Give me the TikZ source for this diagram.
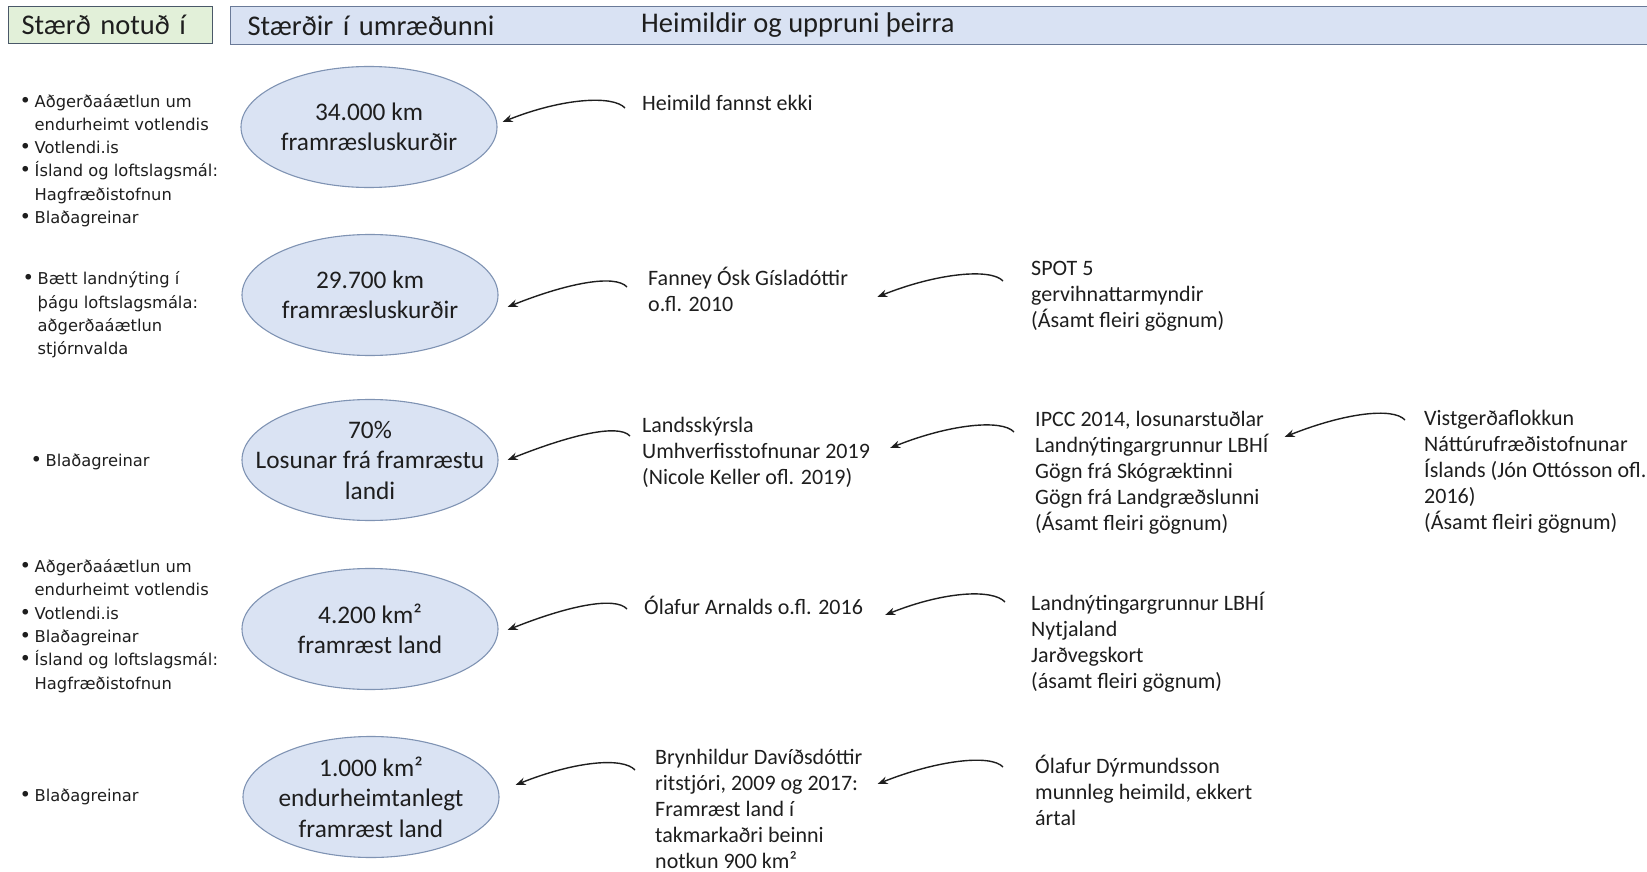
\documentclass[tikz,border=0pt]{standalone}
\usepackage{fontspec}
\setmainfont{Carlito}
\newfontfamily\leftfont{DejaVu Sans}
\usetikzlibrary{shapes.geometric,arrows.meta}
\definecolor{ellfill}{HTML}{DAE3F3}
\definecolor{elldraw}{HTML}{7F93B3}
\definecolor{gfill}{HTML}{E2F0D9}
\definecolor{gdraw}{HTML}{4A5868}
\definecolor{bfill}{HTML}{D9E2F3}
\definecolor{bdraw}{HTML}{6A7A98}
\definecolor{ink}{HTML}{1E1E1E}
\newcommand{\lbul}{\makebox[10.5pt][l]{\hspace*{-4.5pt}\scalebox{1.2}{•}}}
\newcommand{\lind}{\hspace*{10.5pt}}
\begin{document}
\begin{tikzpicture}[x=1pt,y=-1pt,
  ell/.style={ellipse, draw=elldraw, fill=ellfill, line width=1.1pt, minimum width=256pt, minimum height=121pt, inner sep=0pt},
  etext/.style={font={\fontsize{25.3}{30.5}\selectfont}, align=center, inner sep=0pt, text=ink},
  src/.style={font={\fontsize{22}{26}\selectfont}, align=left, anchor=west, inner sep=0pt, text=ink},
  lft/.style={font={\leftfont\fontsize{16.3}{23.3}\selectfont}, align=left, anchor=west, inner sep=0pt, text=ink},
  hdrtext/.style={font={\fontsize{28.5}{32}\selectfont}, text=ink},
  arr/.style={draw=ink, line width=1.4pt, -{Stealth[length=10pt,width=7.5pt]}},
]
\useasboundingbox (0,0) rectangle (1647,872);

% header
\node[hdrtext, draw=gdraw, fill=gfill, line width=1.3pt, anchor=north west,
      text width=178pt, inner xsep=13pt, minimum height=37pt, align=left] (hg) at (8,6) {Stærð notuð í};
\node[hdrtext, draw=bdraw, fill=bfill, line width=1.3pt, anchor=north west,
      text width=1396pt, inner xsep=17pt, minimum height=38pt, align=left] (hb) at (230,6) {Stærðir í umræðunni};
\node[hdrtext, anchor=west, inner sep=0pt] (hh) at (641,25) {Heimildir og uppruni þeirra};

% left column
\node[lft] (g1) at (24,160.5) {\lbul Aðgerðaáætlun um\\ \lind endurheimt votlendis\\ \lbul Votlendi.is\\ \lbul Ísland og loftslagsmál:\\ \lind Hagfræðistofnun\\ \lbul Blaðagreinar};
\node[lft] (g2) at (27,315) {\lbul Bætt landnýting í\\ \lind þágu loftslagsmála:\\ \lind aðgerðaáætlun\\ \lind stjórnvalda};
\node[lft] (g3) at (35,462) {\lbul Blaðagreinar};
\node[lft] (g4) at (24,626) {\lbul Aðgerðaáætlun um\\ \lind endurheimt votlendis\\ \lbul Votlendi.is\\ \lbul Blaðagreinar\\ \lbul Ísland og loftslagsmál:\\ \lind Hagfræðistofnun};
\node[lft] (g5) at (24,797) {\lbul Blaðagreinar};

% ellipses
\node[ell] (e1) at (369,127) {};
\node[etext] (e1t) at (e1) {34.000 km\\framræsluskurðir};
\node[ell] (e2) at (370,295) {};
\node[etext] (e2t) at (e2) {29.700 km\\framræsluskurðir};
\node[ell] (e3) at (370,460) {};
\node[etext] (e3t) at (e3) {70\%\\Losunar frá framræstu\\landi};
\node[ell] (e4) at (370,629) {};
\node[etext] (e4t) at (e4) {4.200 km²\\framræst land};
\node[ell] (e5) at (371,797) {};
\node[etext] (e5t) at (e5) {1.000 km²\\endurheimtanlegt\\framræst land};

% sources, column 1
\node[src] (h1) at (642,103) {Heimild fannst ekki};
\node[src] (f1) at (648,289) {Fanney Ósk Gísladóttir\\o.fl. 2010};
\node[src] (l1) at (642,452) {Landsskýrsla\\Umhverfisstofnunar 2019\\(Nicole Keller ofl. 2019)};
\node[src] (o1) at (644,605) {Ólafur Arnalds o.fl. 2016};
\node[src] (b1) at (655,809) {Brynhildur Davíðsdóttir\\ritstjóri, 2009 og 2017:\\Framræst land í\\takmarkaðri beinni\\notkun 900 km²};

% sources, column 2
\node[src] (s2) at (1031,296) {SPOT 5\\gervihnattarmyndir\\(Ásamt fleiri gögnum)};
\node[src] (i2) at (1035,473) {IPCC 2014, losunarstuðlar\\Landnýtingargrunnur LBHÍ\\Gögn frá Skógræktinni\\Gögn frá Landgræðslunni\\(Ásamt fleiri gögnum)};
\node[src] (n2) at (1031,642) {Landnýtingargrunnur LBHÍ\\Nytjaland\\Jarðvegskort\\(ásamt fleiri gögnum)};
\node[src] (d2) at (1035,790) {Ólafur Dýrmundsson\\munnleg heimild, ekkert\\ártal};

% sources, column 3
\node[src] (v3) at (1424,472) {Vistgerðaflokkun\\Náttúrufræðistofnunar\\Íslands (Jón Ottósson ofl.\\2016)\\(Ásamt fleiri gögnum)};

% arrows
\draw[arr] ([shift={(-17,5)}]h1.west) .. controls +(-12,-13) and +(60,-24) .. ([shift={(5,-5)}]e1.east);
\draw[arr] ([shift={(-21,-2)}]f1.west) .. controls +(-12,-13) and +(60,-24) .. ([shift={(9,12)}]e2.east);
\draw[arr] ([shift={(-28,-15)}]s2.west) .. controls +(-12,-13) and +(60,-24) .. ([shift={(29,8)}]f1.east);
\draw[arr] ([shift={(-12,-16)}]l1.west) .. controls +(-12,-13) and +(60,-24) .. ([shift={(9,0)}]e3.east);
\draw[arr] ([shift={(-21,-41)}]i2.west) .. controls +(-12,-13) and +(60,-24) .. ([shift={(20,-4)}]l1.east);
\draw[arr] ([shift={(-19,-52)}]v3.west) .. controls +(-12,-13) and +(60,-24) .. ([shift={(16,-36)}]i2.east);
\draw[arr] ([shift={(-17,4)}]o1.west) .. controls +(-12,-13) and +(60,-24) .. ([shift={(9,1)}]e4.east);
\draw[arr] ([shift={(-26,-40)}]n2.west) .. controls +(-12,-13) and +(60,-24) .. ([shift={(22,10)}]o1.east);
\draw[arr] ([shift={(-20,-39)}]b1.west) .. controls +(-12,-13) and +(60,-24) .. ([shift={(16,-12)}]e5.east);
\draw[arr] ([shift={(-32,-23)}]d2.west) .. controls +(-12,-13) and +(60,-24) .. ([shift={(15,-25)}]b1.east);
\end{tikzpicture}
\end{document}
